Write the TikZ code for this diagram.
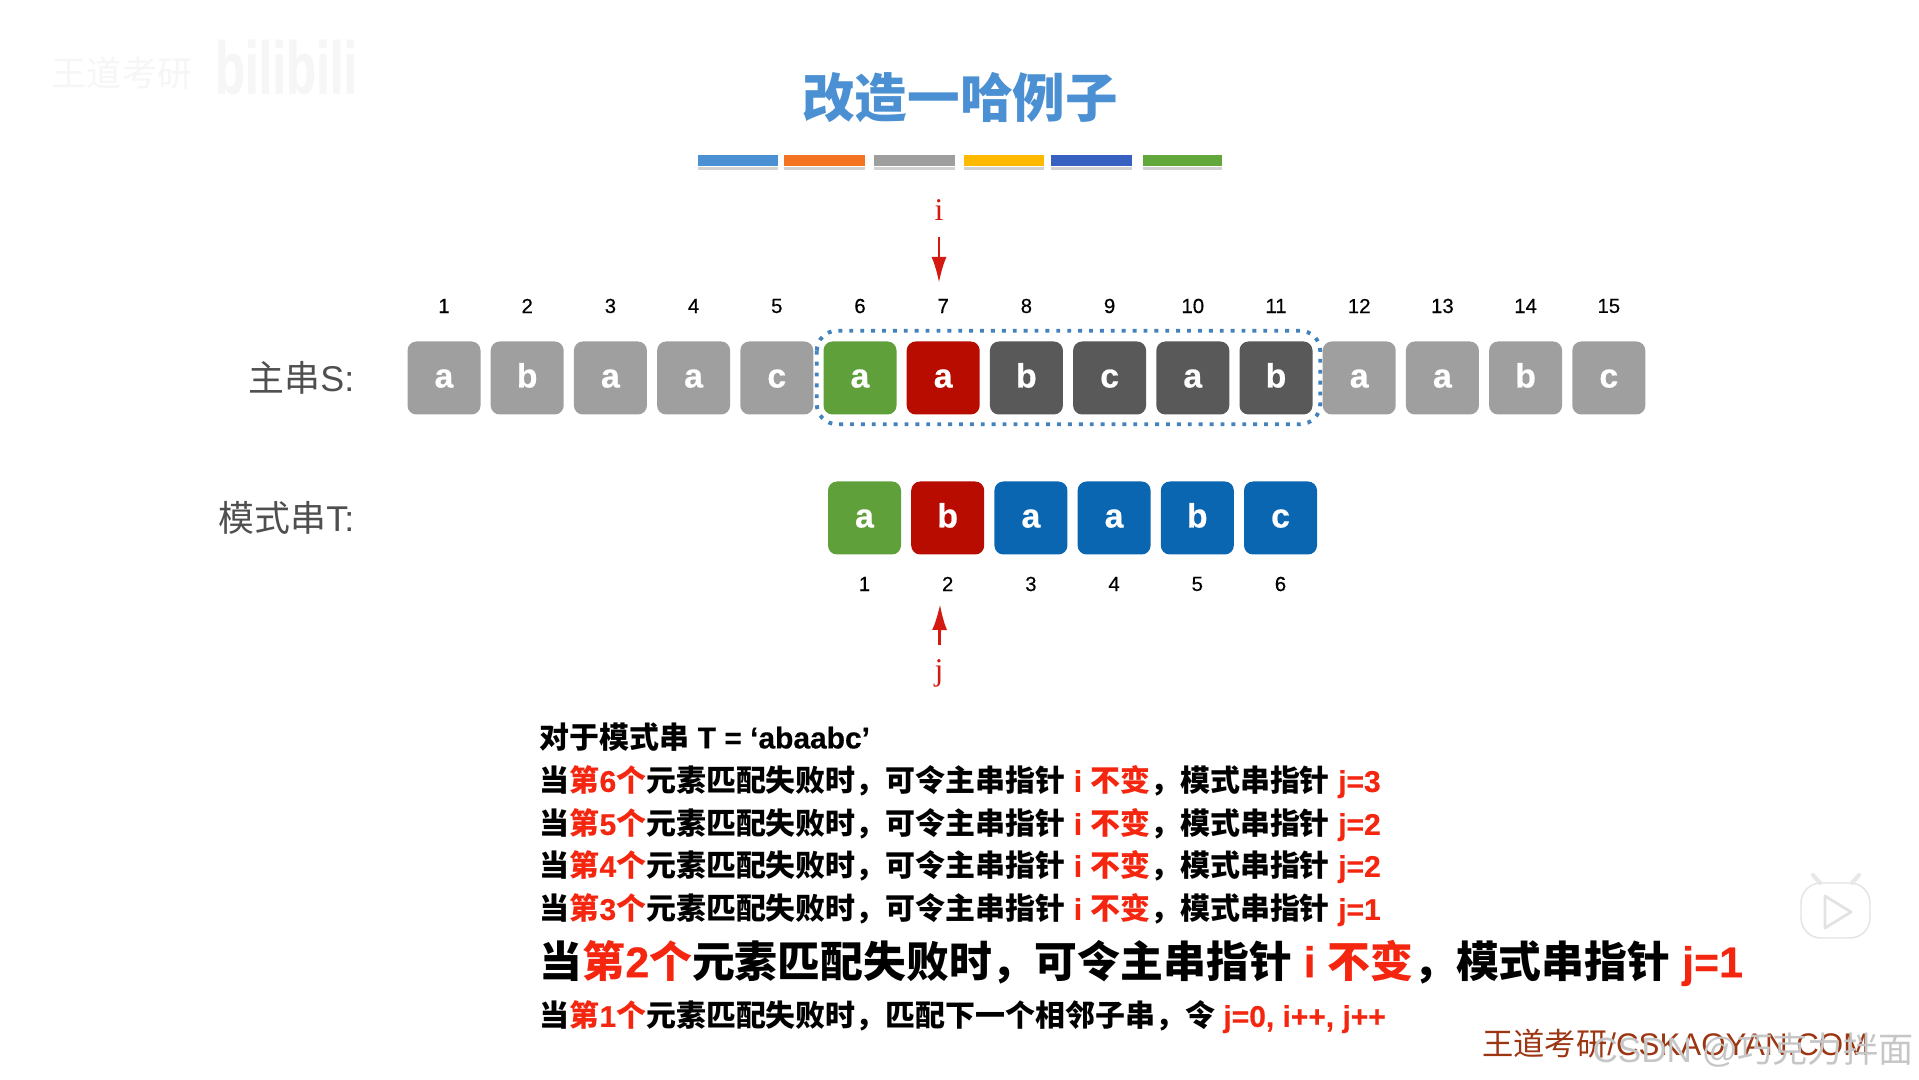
\documentclass[tikz,border=0pt]{standalone}
\usepackage{fontspec}
\setmainfont{Liberation Sans}[BoldFeatures={FakeBold=0.5}]
\newfontfamily\cjkfont{Noto Sans CJK SC}
\newfontfamily\serifpt{Liberation Serif}
\newfontfamily\idxfont{Liberation Sans}[FakeBold=0.35]
\usepackage{tikz}
\usetikzlibrary{arrows.meta,positioning,calc}
\definecolor{kmpgray}{HTML}{9F9F9F}
\definecolor{kmpdark}{HTML}{595959}
\definecolor{kmpgreen}{HTML}{5FA03A}
\definecolor{kmpred}{HTML}{B90C00}
\definecolor{kmpblue}{HTML}{0A66B0}
\definecolor{kmplabel}{HTML}{4F4F4F}
\definecolor{kmphl}{HTML}{F5260F}
\definecolor{kmpptr}{HTML}{D41A10}
\definecolor{kmptitle}{HTML}{4A90D2}
\definecolor{kmpbrand}{HTML}{9C3512}
\definecolor{barA}{HTML}{4A90D2}
\definecolor{barB}{HTML}{F47321}
\definecolor{barC}{HTML}{9E9E9E}
\definecolor{barD}{HTML}{FFB900}
\definecolor{barE}{HTML}{3860C0}
\definecolor{barF}{HTML}{62A73B}
\newcommand{\zh}[1]{{\cjkfont #1}}
\newcommand{\hl}[1]{\textcolor{kmphl}{#1}}
\newcommand{\failrow}[2]{\zh{当}\hl{\zh{第}#1\zh{个}}\zh{元素匹配失败时，可令主串指针} \hl{i \zh{不变}}\zh{，模式串指针} \hl{j=#2}}

\begin{document}
\begin{tikzpicture}[
  x=1cm,
  y=1cm,
  cell/.style={rectangle, rounded corners=0.9mm, minimum width=0.73cm, minimum height=0.73cm, inner sep=0pt, text=white, text height=0.19cm, text depth=0pt, font=\fontsize{9.6}{11}\selectfont\bfseries},
  idx/.style={font=\idxfont\fontsize{5.8}{7}\selectfont, text=black, inner sep=0pt},
  strlab/.style={anchor=east, font=\fontsize{10.2}{12}\selectfont, text=kmplabel, inner sep=0pt},
  row/.style={anchor=west, font=\fontsize{8.52}{10}\selectfont\bfseries, inner sep=0pt},
  ptrlab/.style={font=\serifpt\fontsize{9}{11}\selectfont, text=kmpptr, inner sep=1pt},
  ptr/.style={-{Latex[length=2.6mm,width=1.5mm]}, thick, draw=kmpptr}
]
  \useasboundingbox (0,0) rectangle (19.19,10.79);
  \fill[white] (0,0) rectangle (19.19,10.79);

  % title and colour bars
  \node[font=\cjkfont\fontsize{14.95}{17}\selectfont\bfseries, text=kmptitle, inner sep=0pt] (title) at (9.60,9.81) {改造一哈例子};
  \foreach \n/\xa/\xb/\col in {1/6.98/7.78/barA, 2/7.84/8.65/barB, 3/8.74/9.55/barC, 4/9.635/10.44/barD, 5/10.51/11.32/barE, 6/11.43/12.22/barF} {
    \fill[gray!35] (\xa,9.09) rectangle (\xb,9.12);
    \fill[\col] (\xa,9.13) rectangle (\xb,9.24);
  }

  % main string
  \node[strlab] (slab) at (3.55,7.01) {\zh{主串}S:};
  \foreach \i/\ch/\col [evaluate=\i as \xc using 4.44+0.832*(\i-1)] in {1/a/kmpgray, 2/b/kmpgray, 3/a/kmpgray, 4/a/kmpgray, 5/c/kmpgray, 6/a/kmpgreen, 7/a/kmpred, 8/b/kmpdark, 9/c/kmpdark, 10/a/kmpdark, 11/b/kmpdark, 12/a/kmpgray, 13/a/kmpgray, 14/b/kmpgray, 15/c/kmpgray} {
    \node[cell, fill=\col] (s\i) at (\xc,7.01) {\ch};
    \node[idx] (sn\i) at ($(s\i)+(0,0.72)$) {\i};
  }
  \draw[draw=kmptitle!90!black, line width=1.1pt, dotted, rounded corners=2mm] ($(s6.north west)+(-0.06,0.1)$) rectangle ($(s11.south east)+(0.07,-0.09)$);

  % pattern string
  \node[strlab] (tlab) at (3.55,5.61) {\zh{模式串}T:};
  \foreach \i/\ch/\col [evaluate=\i as \xc using 8.645+0.832*(\i-1)] in {1/a/kmpgreen, 2/b/kmpred, 3/a/kmpblue, 4/a/kmpblue, 5/b/kmpblue, 6/c/kmpblue} {
    \node[cell, fill=\col] (t\i) at (\xc,5.61) {\ch};
    \node[idx] (tn\i) at ($(t\i)+(0,-0.66)$) {\i};
  }

  % pointers
  \node[ptrlab] (iptr) at (9.39,8.69) {i};
  \coordinate (itip) at (9.39,7.96);
  \draw[ptr, shorten <=0.12cm] (iptr) -- (itip);
  \node[ptrlab] (jptr) at (9.39,4.06) {j};
  \coordinate (jtip) at (9.40,4.75);
  \draw[ptr, shorten <=0.1cm] (jptr) -- (jtip);

  % failure table
  \node[row] (head) at (5.39,3.42) {\zh{对于模式串} T = ‘abaabc’};
  \node[row] (r6) at (5.39,2.97) {\failrow{6}{3}};
  \node[row] (r5) at (5.39,2.54) {\failrow{5}{2}};
  \node[row] (r4) at (5.39,2.12) {\failrow{4}{2}};
  \node[row] (r3) at (5.39,1.69) {\failrow{3}{1}};
  \node[row, font=\fontsize{12.19}{14}\selectfont\bfseries] (r2) at (5.39,1.16) {\failrow{2}{1}};
  \node[row] (r1) at (5.39,0.62) {\zh{当}\hl{\zh{第}1\zh{个}}\zh{元素匹配失败时，匹配下一个相邻子串，令} \hl{j=0, i++, j++}};

  % marks on the video frame
  \node[font=\cjkfont\fontsize{10}{12}\selectfont, text=gray!7, inner sep=0pt] (wmname) at (1.22,10.06) {王道考研};
  \node[font=\fontsize{14}{16}\selectfont\bfseries, text=gray!7, inner sep=0pt, yscale=1.5, transform shape] (wmlogo) at (2.86,10.12) {bilibili};
  \draw[gray!22, fill=white, rounded corners=2mm, line width=0.4pt] (18.01,1.41) rectangle (18.70,1.96);
  \draw[gray!18, line width=1.2pt, line cap=round] (18.20,1.96) -- (18.13,2.04) (18.52,1.96) -- (18.59,2.04);
  \draw[gray!22, fill=white, line join=round, line width=0.8pt] (18.25,1.83) -- (18.25,1.51) -- (18.51,1.67) -- cycle;
  \node[anchor=east, font=\fontsize{8.9}{10}\selectfont, text=kmpbrand, inner sep=0pt] (brand) at (18.70,0.35) {\zh{王道考研}/CSKAOYAN.COM};
  \node[anchor=east, font=\fontsize{10}{12}\selectfont, text=gray!45, inner sep=0pt] (csdn) at (19.14,0.29) {CSDN @\zh{巧克力拌面}};
\end{tikzpicture}
\end{document}
